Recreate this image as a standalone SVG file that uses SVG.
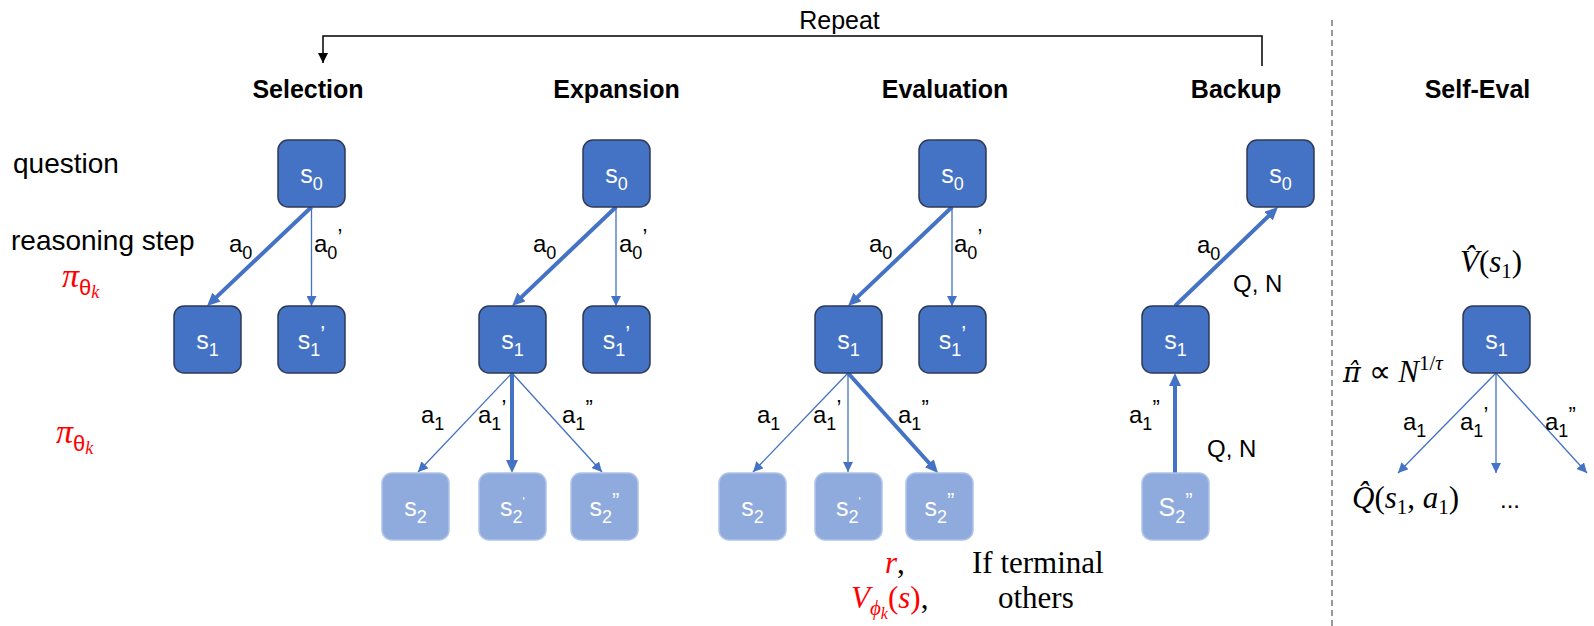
<svg xmlns="http://www.w3.org/2000/svg" width="1594" height="626" viewBox="0 0 1594 626">
<style>
.nd rect{fill:#4472C4;stroke:#2E3A57;stroke-width:1.5}
.lt rect{fill:#8FAADC;stroke:#AFC3E8;stroke-width:1.5}
.nl{font-family:"Liberation Sans",Arial,sans-serif;font-size:25px;fill:#fff;text-anchor:middle}
.sub{font-size:18px}
.pr{font-size:22px}
.el{font-family:"Liberation Sans",Arial,sans-serif;font-size:24px;fill:#000}
.lab{font-family:"Liberation Sans",Arial,sans-serif;font-size:28px;fill:#000}
.title{font-family:"Liberation Sans",Arial,sans-serif;font-weight:bold;font-size:25px;fill:#000;text-anchor:middle}
.thick{stroke:#4472C4;stroke-width:4;fill:none;marker-end:url(#ah)}
.thin{stroke:#4472C4;stroke-width:1.3;fill:none;marker-end:url(#at)}
.math{font-family:"Liberation Serif","Times New Roman",serif;font-size:31px;fill:#000}
.it{font-style:italic}
.red{fill:#FF0000}
</style>
<defs>
<marker id="ah" viewBox="0 0 13 12" refX="7" refY="6" markerWidth="13" markerHeight="12" markerUnits="userSpaceOnUse" orient="auto"><path d="M0,0 L13,6 L0,12 z" fill="#4472C4"/></marker>
<marker id="at" viewBox="0 0 10 10" refX="10" refY="5" markerWidth="10" markerHeight="10" markerUnits="userSpaceOnUse" orient="auto"><path d="M0,0 L10,5 L0,10 z" fill="#4472C4"/></marker>
<marker id="ab" viewBox="0 0 10 10" refX="10" refY="5" markerWidth="10" markerHeight="10" markerUnits="userSpaceOnUse" orient="auto"><path d="M0,0 L10,5 L0,10 z" fill="#000"/></marker>
</defs>

<!-- side labels -->
<g id="labels">
<text class="lab" x="13" y="173">question</text>
<text class="lab" x="11" y="250">reasoning step</text>
<text x="62" y="287" class="red"><tspan font-family="Liberation Serif,serif" font-style="italic" font-size="34">π</tspan><tspan font-family="Liberation Sans,sans-serif" font-size="22" dy="8">θ</tspan><tspan font-family="Liberation Serif,serif" font-style="italic" font-size="18" dy="3">k</tspan></text>
<text x="56" y="443" class="red"><tspan font-family="Liberation Serif,serif" font-style="italic" font-size="34">π</tspan><tspan font-family="Liberation Sans,sans-serif" font-size="22" dy="8">θ</tspan><tspan font-family="Liberation Serif,serif" font-style="italic" font-size="18" dy="3">k</tspan></text>
</g>

<!-- titles -->
<g id="titles">
<text class="title" x="308" y="98">Selection</text>
<text class="title" x="616.5" y="98">Expansion</text>
<text class="title" x="945" y="98">Evaluation</text>
<text class="title" x="1236" y="98">Backup</text>
<text class="title" x="1477.5" y="98">Self-Eval</text>
<text x="839.5" y="29" font-family="Liberation Sans,Arial,sans-serif" font-size="25" text-anchor="middle">Repeat</text>
</g>

<!-- connectors -->
<g id="connectors">
<polyline points="1262,66 1262,36 323,36 323,63" fill="none" stroke="#000" stroke-width="1.5" marker-end="url(#ab)"/>
<line x1="1332" y1="20" x2="1332" y2="626" stroke="#999" stroke-width="2" stroke-dasharray="6 4"/>
<!-- selection -->
<line class="thick" x1="311.5" y1="207" x2="211.4" y2="301.9"/>
<line class="thin" x1="311.5" y1="207" x2="311.5" y2="306"/>
<!-- expansion -->
<line class="thick" x1="616" y1="207" x2="516.4" y2="301.9"/>
<line class="thin" x1="616" y1="207" x2="616" y2="306"/>
<line class="thin" x1="512" y1="373" x2="418" y2="472"/>
<line class="thick" x1="512" y1="373" x2="512" y2="467"/>
<line class="thin" x1="512" y1="373" x2="602" y2="472"/>
<!-- evaluation -->
<line class="thick" x1="952" y1="207" x2="852.4" y2="301.9"/>
<line class="thin" x1="952" y1="207" x2="952" y2="306"/>
<line class="thin" x1="848" y1="373" x2="753" y2="472"/>
<line class="thin" x1="848" y1="373" x2="848" y2="472"/>
<line class="thick" x1="848" y1="373" x2="934" y2="468.5"/>
<!-- backup -->
<line class="thick" x1="1175" y1="306" x2="1273.7" y2="211.2"/>
<line class="thick" x1="1175" y1="473" x2="1175" y2="379"/>
<!-- self-eval -->
<line class="thin" x1="1496" y1="373" x2="1398" y2="473"/>
<line class="thin" x1="1496" y1="373" x2="1496" y2="473"/>
<line class="thin" x1="1496" y1="373" x2="1587" y2="473"/>
</g>

<!-- edge labels -->
<g id="edge-labels">
<text class="el" x="229" y="252">a<tspan class="sub" dy="7">0</tspan></text>
<text class="el" x="314" y="252">a<tspan class="sub" dy="7">0</tspan><tspan class="pr" dy="-15">’</tspan></text>
<text class="el" x="533" y="252">a<tspan class="sub" dy="7">0</tspan></text>
<text class="el" x="619" y="252">a<tspan class="sub" dy="7">0</tspan><tspan class="pr" dy="-15">’</tspan></text>
<text class="el" x="869" y="252">a<tspan class="sub" dy="7">0</tspan></text>
<text class="el" x="954" y="252">a<tspan class="sub" dy="7">0</tspan><tspan class="pr" dy="-15">’</tspan></text>
<text class="el" x="421" y="423">a<tspan class="sub" dy="7">1</tspan></text>
<text class="el" x="478" y="423">a<tspan class="sub" dy="7">1</tspan><tspan class="pr" dy="-15">’</tspan></text>
<text class="el" x="562" y="423">a<tspan class="sub" dy="7">1</tspan><tspan class="pr" dy="-15">”</tspan></text>
<text class="el" x="757" y="423">a<tspan class="sub" dy="7">1</tspan></text>
<text class="el" x="813" y="423">a<tspan class="sub" dy="7">1</tspan><tspan class="pr" dy="-15">’</tspan></text>
<text class="el" x="898" y="423">a<tspan class="sub" dy="7">1</tspan><tspan class="pr" dy="-15">”</tspan></text>
<text class="el" x="1197" y="253">a<tspan class="sub" dy="7">0</tspan></text>
<text class="el" x="1233" y="292" font-size="26">Q, N</text>
<text class="el" x="1129" y="423">a<tspan class="sub" dy="7">1</tspan><tspan class="pr" dy="-15">”</tspan></text>
<text class="el" x="1207" y="457" font-size="26">Q, N</text>
<text class="el" x="1403" y="430">a<tspan class="sub" dy="7">1</tspan></text>
<text class="el" x="1460" y="430">a<tspan class="sub" dy="7">1</tspan><tspan class="pr" dy="-15">’</tspan></text>
<text class="el" x="1545" y="430">a<tspan class="sub" dy="7">1</tspan><tspan class="pr" dy="-15">”</tspan></text>
</g>

<!-- Selection nodes -->
<g id="sel-s0" class="nd"><rect x="278" y="140" width="67" height="67" rx="10"/><text class="nl" x="311.5" y="183">s<tspan class="sub" dy="7">0</tspan></text></g>
<g id="sel-s1" class="nd"><rect x="174" y="306" width="67" height="67" rx="10"/><text class="nl" x="207.5" y="349">s<tspan class="sub" dy="7">1</tspan></text></g>
<g id="sel-s1p" class="nd"><rect x="278" y="306" width="67" height="67" rx="10"/><text class="nl" x="311.5" y="349">s<tspan class="sub" dy="7">1</tspan><tspan class="pr" dy="-15">’</tspan></text></g>

<!-- Expansion nodes -->
<g id="exp-s0" class="nd"><rect x="583" y="140" width="67" height="67" rx="10"/><text class="nl" x="616.5" y="183">s<tspan class="sub" dy="7">0</tspan></text></g>
<g id="exp-s1" class="nd"><rect x="479" y="306" width="67" height="67" rx="10"/><text class="nl" x="512.5" y="349">s<tspan class="sub" dy="7">1</tspan></text></g>
<g id="exp-s1p" class="nd"><rect x="583" y="306" width="67" height="67" rx="10"/><text class="nl" x="616.5" y="349">s<tspan class="sub" dy="7">1</tspan><tspan class="pr" dy="-15">’</tspan></text></g>
<g id="exp-s2" class="lt"><rect x="382" y="473" width="67" height="67" rx="10"/><text class="nl" x="415.5" y="516">s<tspan class="sub" dy="7">2</tspan></text></g>
<g id="exp-s2p" class="lt"><rect x="479" y="473" width="67" height="67" rx="10"/><text class="nl" x="512.5" y="516">s<tspan class="sub" dy="7">2</tspan><tspan font-size="12" dy="-17">'</tspan></text></g>
<g id="exp-s2pp" class="lt"><rect x="571" y="473" width="67" height="67" rx="10"/><text class="nl" x="604.5" y="516">s<tspan class="sub" dy="7">2</tspan><tspan class="pr" dy="-15">”</tspan></text></g>

<!-- Evaluation nodes -->
<g id="eva-s0" class="nd"><rect x="919" y="140" width="67" height="67" rx="10"/><text class="nl" x="952.5" y="183">s<tspan class="sub" dy="7">0</tspan></text></g>
<g id="eva-s1" class="nd"><rect x="815" y="306" width="67" height="67" rx="10"/><text class="nl" x="848.5" y="349">s<tspan class="sub" dy="7">1</tspan></text></g>
<g id="eva-s1p" class="nd"><rect x="919" y="306" width="67" height="67" rx="10"/><text class="nl" x="952.5" y="349">s<tspan class="sub" dy="7">1</tspan><tspan class="pr" dy="-15">’</tspan></text></g>
<g id="eva-s2" class="lt"><rect x="719" y="473" width="67" height="67" rx="10"/><text class="nl" x="752.5" y="516">s<tspan class="sub" dy="7">2</tspan></text></g>
<g id="eva-s2p" class="lt"><rect x="815" y="473" width="67" height="67" rx="10"/><text class="nl" x="848.5" y="516">s<tspan class="sub" dy="7">2</tspan><tspan font-size="12" dy="-17">'</tspan></text></g>
<g id="eva-s2pp" class="lt"><rect x="906" y="473" width="67" height="67" rx="10"/><text class="nl" x="939.5" y="516">s<tspan class="sub" dy="7">2</tspan><tspan class="pr" dy="-15">”</tspan></text></g>

<!-- Evaluation value text -->
<g id="eva-value">
<text class="math" x="885" y="573"><tspan class="it red">r</tspan>,</text>
<text class="math" x="851" y="608"><tspan class="it red">V</tspan><tspan class="it red" font-size="21" dy="7">ϕ</tspan><tspan class="it red" font-size="16" dy="4">k</tspan><tspan class="red" dy="-11">(</tspan><tspan class="it red">s</tspan><tspan class="red">)</tspan>,</text>
<text class="math" x="972" y="573">If terminal</text>
<text class="math" x="998" y="608">others</text>
</g>

<!-- Backup nodes -->
<g id="bak-s0" class="nd"><rect x="1247" y="140" width="67" height="67" rx="10"/><text class="nl" x="1280.5" y="183">s<tspan class="sub" dy="7">0</tspan></text></g>
<g id="bak-s1" class="nd"><rect x="1142" y="306" width="67" height="67" rx="10"/><text class="nl" x="1175.5" y="349">s<tspan class="sub" dy="7">1</tspan></text></g>
<g id="bak-s2pp" class="lt"><rect x="1142" y="473" width="67" height="67" rx="10"/><text class="nl" x="1175.5" y="516">S<tspan class="sub" dy="7">2</tspan><tspan class="pr" dy="-15">”</tspan></text></g>

<!-- Self-Eval -->
<g id="self-s1" class="nd"><rect x="1463" y="306" width="67" height="67" rx="10"/><text class="nl" x="1496.5" y="349">s<tspan class="sub" dy="7">1</tspan></text></g>
<g id="self-eval-text">
<text class="math" x="1460" y="272"><tspan class="it">V̂</tspan>(<tspan class="it">s</tspan><tspan font-size="21" dy="6">1</tspan><tspan dy="-6">)</tspan></text>
<text class="math" x="1343" y="382"><tspan class="it" font-family="DejaVu Serif,serif" font-size="27">π̂</tspan> ∝ <tspan class="it">N</tspan><tspan font-size="21" dy="-12">1/</tspan><tspan class="it" font-size="21">τ</tspan></text>
<text class="math" x="1352" y="508"><tspan class="it">Q̂</tspan>(<tspan class="it">s</tspan><tspan font-size="21" dy="6">1</tspan><tspan dy="-6">, </tspan><tspan class="it">a</tspan><tspan font-size="21" dy="6">1</tspan><tspan dy="-6">)</tspan></text>
<text x="1500" y="508" font-family="Liberation Sans,Arial,sans-serif" font-size="24">...</text>
</g>
</svg>
